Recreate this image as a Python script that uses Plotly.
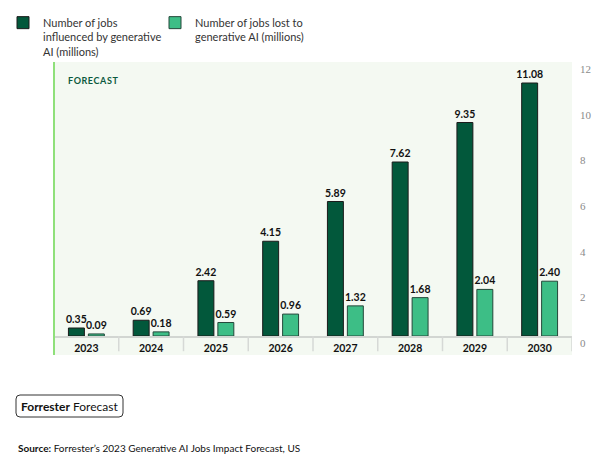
import plotly.graph_objects as go

years = ["2023", "2024", "2025", "2026", "2027", "2028", "2029", "2030"]
influenced = [0.35, 0.69, 2.42, 4.15, 5.89, 7.62, 9.35, 11.08]
lost = [0.09, 0.18, 0.59, 0.96, 1.32, 1.68, 2.04, 2.40]
name_influenced = "Number of jobs<br>influenced by generative<br>AI (millions)"
name_lost = "Number of jobs lost to<br>generative AI (millions)"
y_ticks = [0, 2, 4, 6, 8, 10, 12]

W, H = 593, 457
L, R, T, B = 54, 21, 62, 102
plot_w = W - L - R
plot_h = H - T - B
zero_px = 336
band = (H - B - zero_px) / plot_h          # fraction of plot height used by the category band
y_hi = 12.0

def px_x(px):
    return (px - L) / plot_w

def px_y(py):
    return (H - B - py) / plot_h

DARK = "#02583B"
LIGHT = "#3DBE86"
BG = "#F4F9F2"
FONT = "Lato"

fig = go.Figure()
for vals, name, col, lcol in [(influenced, name_influenced, DARK, "#1b1b1b"),
                              (lost, name_lost, LIGHT, "#24473a")]:
    fig.add_trace(go.Bar(
        x=years, y=vals, name=name,
        marker=dict(color=col, line=dict(color=lcol, width=1)),
        text=[f"{v:.2f}" for v in vals], textposition="outside",
        textfont=dict(family=FONT, size=10.5, color="#111", weight="bold"),
        constraintext="none", cliponaxis=False,
    ))

shapes = [
    dict(type="rect", xref="paper", yref="paper", x0=0, x1=1, y0=0, y1=band,
         fillcolor=BG, line=dict(width=0), layer="below"),
]
for i in range(len(years)):
    shapes.append(dict(type="line", xref="x", yref="paper", x0=i + 0.5, x1=i + 0.5,
                       y0=band * 0.2, y1=band, line=dict(color="#d6d9d6", width=1.5)))
shapes.append(dict(type="line", xref="paper", yref="paper", x0=0, x1=0, y0=0, y1=1,
                   line=dict(color="#8FE07A", width=2)))

# rounded box around "Forrester Forecast"
bx0, bx1, by0, by1, r = px_x(16), px_x(123), px_y(417), px_y(395), 4
rx, ry = r / plot_w, r / plot_h
path = (f"M {bx0+rx} {by0} L {bx1-rx} {by0} Q {bx1} {by0} {bx1} {by0+ry} "
        f"L {bx1} {by1-ry} Q {bx1} {by1} {bx1-rx} {by1} L {bx0+rx} {by1} "
        f"Q {bx0} {by1} {bx0} {by1-ry} L {bx0} {by0+ry} Q {bx0} {by0} {bx0+rx} {by0} Z")
shapes.append(dict(type="path", xref="paper", yref="paper", path=path,
                   line=dict(color="#333", width=1)))

fig.update_layout(
    template="none",
    width=W, height=H,
    margin=dict(l=L, r=R, t=T, b=B, autoexpand=False),
    paper_bgcolor="white", plot_bgcolor=BG,
    barmode="group", bargap=0.384, bargroupgap=0.2,
    font=dict(family=FONT, color="#222"),
    showlegend=True,
    legend=dict(orientation="h", xref="container", yref="container",
                x=3 / W, y=1 - 9 / H, xanchor="left", yanchor="top",
                valign="top", font=dict(family=FONT, size=11, color="#333"),
                entrywidth=107, entrywidthmode="pixels", traceorder="normal",
                bgcolor="rgba(0,0,0,0)"),
    xaxis=dict(type="category", range=[-0.5, len(years) - 0.5], showgrid=False,
               ticks="", showline=True, linecolor="#d2d6d2", linewidth=1.5,
               zeroline=False, automargin=False,
               tickfont=dict(family=FONT, size=10.5, color="#111", weight="bold"),
               ticklabelstandoff=2, fixedrange=True),
    yaxis=dict(domain=[band, 1], range=[0, y_hi], side="right", showgrid=False,
               zeroline=False, ticks="", tickvals=y_ticks, automargin=False,
               tickfont=dict(family="Liberation Sans Narrow", size=11, color="#8a8a8a"),
               ticklabelstandoff=7, ticklabelshift=7, fixedrange=True),
    shapes=shapes,
    annotations=[
        dict(text="\u200a".join("FORECAST"), xref="paper", yref="paper",
             x=px_x(66), y=px_y(80), xanchor="left", yanchor="middle", showarrow=False,
             font=dict(family=FONT, size=9, color="#0B5A3E", weight="bold")),
        dict(text="<b>Forrester</b> Forecast", xref="paper", yref="paper",
             x=px_x(69.5), y=px_y(406), xanchor="center", yanchor="middle", showarrow=False,
             font=dict(family=FONT, size=12, color="#111")),
        dict(text="<b>Source:</b> Forrester\u2019s 2023 Generative AI Jobs Impact Forecast, US",
             xref="paper", yref="paper", x=px_x(16), y=px_y(448), xanchor="left",
             yanchor="middle", showarrow=False,
             font=dict(family=FONT, size=10, color="#111")),
    ],
)

fig.write_html("out.html")
